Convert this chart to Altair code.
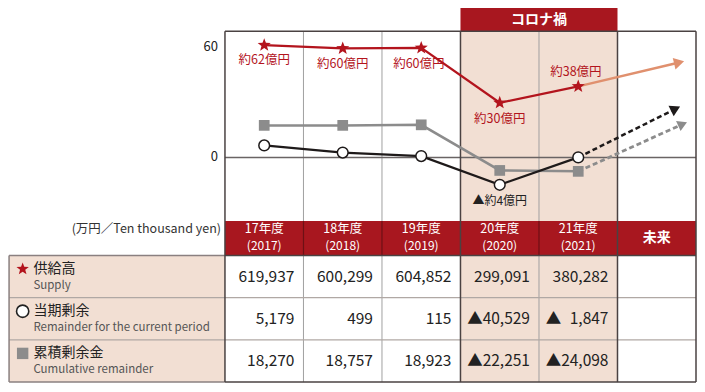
import math
import altair as alt
import pandas as pd

# ---------------- data ----------------
years = ["17年度", "18年度", "19年度", "20年度", "21年度"]
years_w = ["(2017)", "(2018)", "(2019)", "(2020)", "(2021)"]
future_label = "未来"
corona_label = "コロナ禍"
unit_label = "(万円／Ten thousand yen)"

# plotted positions (chart units)
supply_plot = [61.0, 59.3, 59.5, 29.7, 38.6]
remainder_plot = [6.5, 2.6, 0.7, -14.9, 0.0]
cumulative_plot = [17.4, 17.4, 17.7, -7.1, -7.6]
future_x = [5.785, 5.74, 5.83]          # supply, remainder, cumulative arrow heads
future_y = [51.6, 26.4, 18.1]

supply_labels = ["約62億円", "約60億円", "約60億円", "約30億円", "約38億円"]
supply_label_y = [52.8, 51.0, 51.0, 21.0, 46.4]
supply_label_x = [0.5, 1.5, 2.47, 3.5, 4.47]
remainder_note = "▲約4億円"
remainder_note_y = -23.6
y_ticks = [0, 60]

row_ja = ["供給高", "当期剰余", "累積剰余金"]
row_en = ["Supply", "Remainder for the current period", "Cumulative remainder"]
supply_tbl = ["619,937", "600,299", "604,852", "299,091", "380,282"]
remainder_tbl = ["5,179", "499", "115", "▲40,529", "▲\u20071,847"]
cumulative_tbl = ["18,270", "18,757", "18,923", "▲22,251", "▲24,098"]

# ---------------- style ----------------
FONT = "Noto Sans CJK JP"
RED = "#a8171f"
LINE_RED = "#b3141d"
SALMON = "#e0906e"
BEIGE = "#f2dfd3"
GRAY = "#8c8c8c"
GRID = "#a0a0a0"
DARK = "#4a4242"

X_MIN, X_MAX = -2.7636, 6.0127
Y_MIN, Y_MAX = -34.59, 81.22
Y_FRAME = 68.55
W, H1, H2 = 689, 213, 163
HDR = 36 / 44
T_MAX = 170 / 44

xs = alt.Scale(domain=[X_MIN, X_MAX], nice=False, zero=False)
ys = alt.Scale(domain=[Y_MIN, Y_MAX], nice=False, zero=False)
ts = alt.Scale(domain=[0, T_MAX], nice=False, zero=False, reverse=True)

PX = W / (X_MAX - X_MIN)
PY = H1 / (Y_MAX - Y_MIN)


def star_path(inner=0.42):
    pts = []
    for i in range(10):
        r = 1.0 if i % 2 == 0 else inner
        a = math.radians(-90 + 36 * i)
        pts.append(f"{r * math.cos(a):.3f},{r * math.sin(a):.3f}")
    return "M" + "L".join(pts) + "Z"


STAR = star_path()


def Xq(f="x"):
    return alt.X(f"{f}:Q", scale=xs, axis=None)


def Yq(f="y"):
    return alt.Y(f"{f}:Q", scale=ys, axis=None)


def Tq(f="y"):
    return alt.Y(f"{f}:Q", scale=ts, axis=None)


def rect(df, color, yfn):
    return alt.Chart(df).mark_rect(color=color).encode(
        x=Xq(), x2="x2:Q", y=yfn(), y2="y2:Q")


def vrules(xvals, y0, y1, color, width, yfn):
    df = pd.DataFrame({"x": xvals, "y": [y0] * len(xvals), "y2": [y1] * len(xvals)})
    return alt.Chart(df).mark_rule(color=color, strokeWidth=width).encode(
        x=Xq(), y=yfn(), y2="y2:Q")


def hrules(yvals, x0, x1, color, width, yfn):
    df = pd.DataFrame({"y": yvals, "x": [x0] * len(yvals), "x2": [x1] * len(yvals)})
    return alt.Chart(df).mark_rule(color=color, strokeWidth=width).encode(
        x=Xq(), x2="x2:Q", y=yfn())


def texts(df, yfn, **kw):
    return alt.Chart(df).mark_text(font=FONT, **kw).encode(x=Xq(), y=yfn(), text="t:N")


def arrow_angle(x0, y0, x1, y1):
    deg = math.degrees(math.atan2((y1 - y0) * PY, (x1 - x0) * PX))
    return (360 - deg) % 360


xc = [i + 0.5 for i in range(5)]

# ---------------- top (line chart) ----------------
top_layers = [
    rect(pd.DataFrame({"x": [3], "x2": [5], "y": [Y_MIN], "y2": [Y_FRAME]}), BEIGE, Yq),
    rect(pd.DataFrame({"x": [3], "x2": [5], "y": [Y_FRAME], "y2": [Y_MAX]}), RED, Yq),
    texts(pd.DataFrame({"x": [4], "y": [(Y_FRAME + Y_MAX) / 2], "t": [corona_label]}), Yq,
          color="white", fontSize=14, fontWeight="bold"),
    vrules([1, 2, 4], Y_MIN, Y_FRAME, GRID, 1, Yq),
    hrules([0], 0, 6, "#6a6464", 1.5, Yq),
    vrules([0, 3, 5, 6], Y_MIN, Y_FRAME, DARK, 1.5, Yq),
    hrules([Y_FRAME], 0, 6, DARK, 1.5, Yq),
    texts(pd.DataFrame({"x": [-0.09] * 2, "y": y_ticks, "t": [str(v) for v in y_ticks]}), Yq,
          align="right", fontSize=13, color="#222"),
]

series = [
    (cumulative_plot, GRAY, GRAY, 2.5, [5, 3], future_x[2], future_y[2], 120),
    (remainder_plot, "#1e1a1a", "#1e1a1a", 2.2, [5, 3], future_x[1], future_y[1], 135),
    (supply_plot, LINE_RED, SALMON, 2.2, None, future_x[0], future_y[0], 140),
]
for vals, c_line, c_arrow, sw, dash, fx, fy, hs in series:
    top_layers.append(alt.Chart(pd.DataFrame({"x": xc, "y": vals})).mark_line(
        color=c_line, strokeWidth=sw).encode(x=Xq(), y=Yq()))
    adf = pd.DataFrame({"x": [4.5, fx], "y": [vals[-1], fy]})
    kw = dict(color=c_arrow, strokeWidth=sw + 0.3)
    if dash:
        kw["strokeDash"] = dash
    top_layers.append(alt.Chart(adf).mark_line(**kw).encode(x=Xq(), y=Yq()))
    ang = arrow_angle(4.5, vals[-1], fx, fy)
    top_layers.append(alt.Chart(pd.DataFrame({"x": [fx], "y": [fy]})).mark_point(
        shape="triangle-right", filled=True, color=c_arrow, opacity=1, size=hs,
        angle=ang).encode(x=Xq(), y=Yq()))

top_layers += [
    alt.Chart(pd.DataFrame({"x": xc, "y": cumulative_plot})).mark_point(
        shape="square", filled=True, color=GRAY, opacity=1, size=115).encode(x=Xq(), y=Yq()),
    alt.Chart(pd.DataFrame({"x": xc, "y": remainder_plot})).mark_point(
        shape="circle", filled=True, fill="white", stroke="#1e1a1a", strokeWidth=1.5,
        opacity=1, size=115).encode(x=Xq(), y=Yq()),
    alt.Chart(pd.DataFrame({"x": xc, "y": supply_plot})).mark_point(
        shape=STAR, filled=True, color=LINE_RED, opacity=1, size=190).encode(x=Xq(), y=Yq()),
    texts(pd.DataFrame({"x": supply_label_x, "y": supply_label_y, "t": supply_labels}), Yq,
          color=LINE_RED, fontSize=12.5),
    texts(pd.DataFrame({"x": [3.5], "y": [remainder_note_y], "t": [remainder_note]}), Yq,
          color="#222", fontSize=12),
]

top = alt.layer(*top_layers).properties(width=W, height=H1)

# ---------------- bottom (table) ----------------
LB = -2.75
bot_layers = [
    rect(pd.DataFrame({"x": [0], "x2": [6], "y": [0], "y2": [HDR]}), RED, Tq),
    rect(pd.DataFrame({"x": [3], "x2": [5], "y": [HDR], "y2": [HDR + 3]}), BEIGE, Tq),
    rect(pd.DataFrame({"x": [LB], "x2": [0], "y": [HDR], "y2": [HDR + 3]}), BEIGE, Tq),
    vrules([1, 2, 4], 0, HDR, "#6e1015", 1.2, Tq),
    vrules([1, 2, 4], HDR, HDR + 3, GRID, 1, Tq),
    hrules([HDR + 1, HDR + 2], LB, 6, "#b0a8a4", 1.2, Tq),
    hrules([HDR], LB, 0, "#8a8080", 1.5, Tq),
    vrules([LB], HDR, HDR + 3, "#8a8080", 1.5, Tq),
    hrules([HDR + 3], LB, 0, "#8a8080", 1.5, Tq),
    hrules([HDR, HDR + 3], 0, 6, DARK, 1.5, Tq),
    vrules([0, 3, 5, 6], 0, HDR + 3, DARK, 1.5, Tq),
    texts(pd.DataFrame({"x": xc, "y": [0.2] * 5, "t": years}), Tq,
          color="white", fontSize=12.5),
    texts(pd.DataFrame({"x": xc, "y": [0.6] * 5, "t": years_w}), Tq,
          color="white", fontSize=12),
    texts(pd.DataFrame({"x": [5.5], "y": [0.41], "t": [future_label]}), Tq,
          color="white", fontSize=14, fontWeight="bold"),
    texts(pd.DataFrame({"x": [-0.05], "y": [0.2], "t": [unit_label]}), Tq,
          color="#333", fontSize=12.5, align="right"),
]

xv = [i + 0.885 for i in range(5)]
for r, vals in enumerate([supply_tbl, remainder_tbl, cumulative_tbl]):
    bot_layers.append(texts(pd.DataFrame({"x": xv, "y": [HDR + r + 0.5] * 5, "t": vals}), Tq,
                            color="#222", fontSize=15.5, align="right"))

ja_df = pd.DataFrame({"x": [-2.44] * 3, "y": [HDR + r + 0.32 for r in range(3)], "t": row_ja})
en_df = pd.DataFrame({"x": [-2.44] * 3, "y": [HDR + r + 0.72 for r in range(3)], "t": row_en})
sym_x = -2.577
bot_layers += [
    texts(ja_df, Tq, color="#222", fontSize=14, align="left"),
    texts(en_df, Tq, color="#555", fontSize=11.5, align="left"),
    alt.Chart(pd.DataFrame({"x": [sym_x], "y": [HDR + 0.32]})).mark_point(
        shape=STAR, filled=True, color=LINE_RED, opacity=1, size=170).encode(x=Xq(), y=Tq()),
    alt.Chart(pd.DataFrame({"x": [sym_x], "y": [HDR + 1.32]})).mark_point(
        shape="circle", filled=True, fill="white", stroke="#222", strokeWidth=1.6,
        opacity=1, size=150).encode(x=Xq(), y=Tq()),
    alt.Chart(pd.DataFrame({"x": [sym_x], "y": [HDR + 2.32]})).mark_point(
        shape="square", filled=True, color=GRAY, opacity=1, size=130).encode(x=Xq(), y=Tq()),
]

bottom = alt.layer(*bot_layers).properties(width=W, height=H2)

chart = alt.vconcat(top, bottom, spacing=0, bounds="flush").properties(
    padding=0, background="white"
).configure_view(strokeWidth=0)

chart.save("out.html", embed_options={"renderer": "svg", "actions": False})
